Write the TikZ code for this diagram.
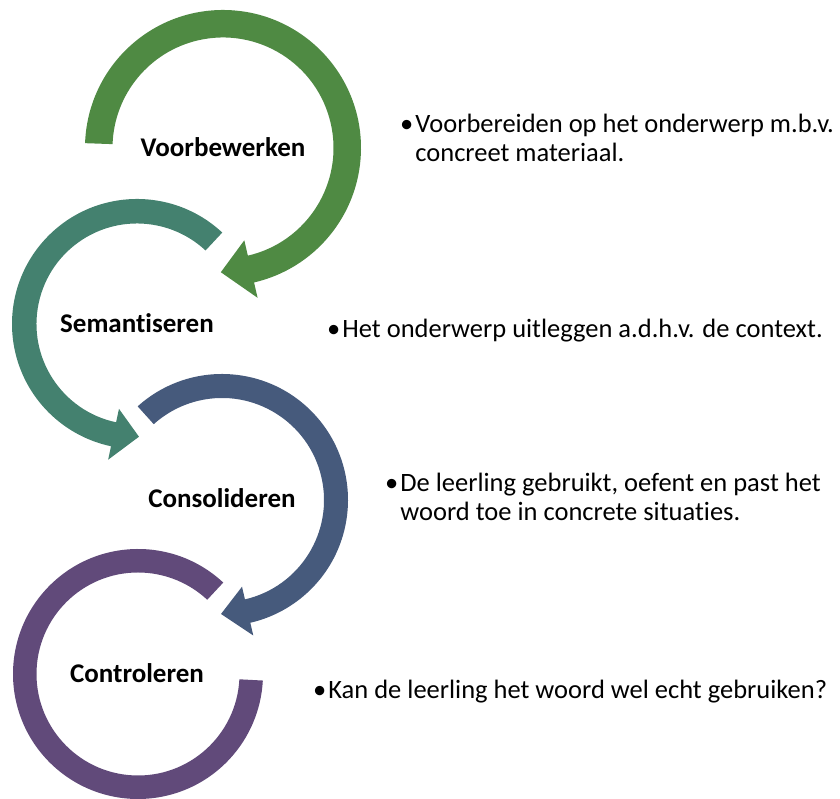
\documentclass[tikz,border=0pt]{standalone}
\usepackage{fontspec}
\setmainfont{Carlito}[Ligatures=NoCommon]
\usepackage{xcolor}
\usepackage{tikz}
\usetikzlibrary{calc}

\definecolor{stepgreen}{HTML}{4F8A43}
\definecolor{stepteal}{HTML}{44816F}
\definecolor{stepblue}{HTML}{465A7C}
\definecolor{steppurple}{HTML}{614A7A}

% centre, colour, mid radius, half width, start, end of shaft, tip angle, head half width
\newcommand{\cyclearrow}[8]{%
  \fill[#2] ($(#1)+({#5}:{#3+#4})$) arc[start angle=#5, end angle=#6, radius=#3+#4]
    -- ($(#1)+({#6}:{#3+#8})$) -- ($(#1)+({#7}:{#3})$) -- ($(#1)+({#6}:{#3-#8})$)
    -- ($(#1)+({#6}:{#3-#4})$) arc[start angle=#6, end angle=#5, radius=#3-#4] -- cycle;}

\begin{document}
\begin{tikzpicture}[
    x=1pt, y=1pt,
    phase/.style={font=\fontsize{27}{29}\selectfont\bfseries, inner sep=0pt, anchor=base},
    note/.style={font=\fontsize{26.5}{28.3}\selectfont, inner sep=0pt, anchor=base west}
]
\useasboundingbox (0,0) rectangle (840,799);

% Circle centres
\coordinate (c1) at (223,651);
\coordinate (c2) at (137,475);
\coordinate (c3) at (222,299);
\coordinate (c4) at (138,125);

% Circular arrows
\cyclearrow{c1}{stepgreen}{124.25}{13.75}{178}{-77}{-91}{29.5}
\cyclearrow{c2}{stepteal}{112.75}{12.25}{47}{258}{271}{26}
\cyclearrow{c3}{stepblue}{114}{12}{132}{-77}{-90.5}{25}
% last ring has no head
\fill[steppurple] ($(c4)+(47:125)$) arc[start angle=47, end angle=357, radius=125]
    -- ($(c4)+(357:101.5)$) arc[start angle=357, end angle=47, radius=101.5] -- cycle;

% Phase names
\node[phase] (voorbewerken) at (223,642) {Voorbewerken};
\node[phase] (semantiseren) at (137,466) {Semantiseren};
\node[phase] (consolideren) at (222,291) {Consolideren};
\node[phase] (controleren) at (137,116) {Controleren};

% Notes
\node[note] (voorbereiden) at (400,666) {\begin{tabular}[t]{@{}l@{\hspace{2pt}}l@{}}•&Voorbereiden op het onderwerp m.b.v.\\ &concreet materiaal.\end{tabular}};
\node[note] (uitleggen) at (327,461) {\begin{tabular}[t]{@{}l@{\hspace{2pt}}l@{}}•&Het onderwerp uitleggen a.d.h.v. de context.\end{tabular}};
\node[note] (oefenen) at (385,307) {\begin{tabular}[t]{@{}l@{\hspace{2pt}}l@{}}•&De leerling gebruikt, oefent en past het\\ &woord toe in concrete situaties.\end{tabular}};
\node[note] (gebruiken) at (313,100) {\begin{tabular}[t]{@{}l@{\hspace{2pt}}l@{}}•&Kan de leerling het woord wel echt gebruiken?\end{tabular}};

\end{tikzpicture}
\end{document}
